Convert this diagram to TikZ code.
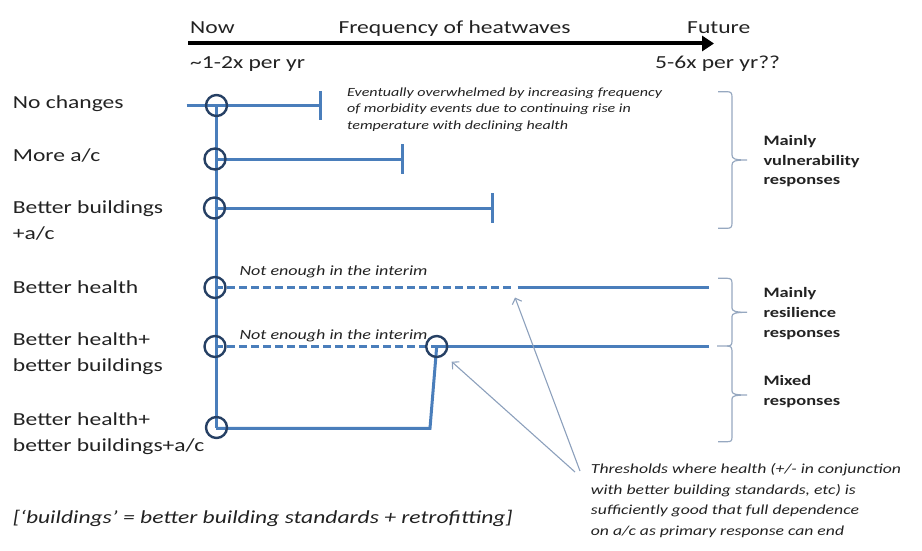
\documentclass[tikz,border=0pt]{standalone}
\usepackage{fontspec}
\setmainfont[FakeStretch=1.28]{Carlito}
\usetikzlibrary{arrows.meta}

\definecolor{lineblue}{RGB}{74,126,187}
\definecolor{ringnavy}{RGB}{38,64,100}
\definecolor{bracegrey}{RGB}{150,168,192}
\definecolor{pointergrey}{RGB}{140,160,188}
\definecolor{ink}{RGB}{34,34,34}

\begin{document}
\begin{tikzpicture}[x=1pt,y=-1pt,
  txt/.style={inner sep=0pt, anchor=base west, text=ink, font=\fontsize{18.4}{22}\selectfont},
  resp/.style={txt, font=\fontsize{14.4}{17}\selectfont\bfseries},
  note/.style={txt, font=\fontsize{12.5}{15}\selectfont\itshape},
  interim/.style={txt, font=\fontsize{14.1}{17}\selectfont\itshape},
  thresh/.style={txt, font=\fontsize{13.8}{16}\selectfont\itshape},
  foot/.style={txt, font=\fontsize{18.4}{22}\selectfont\itshape},
  ring/.style={circle, draw=ringnavy, line width=2.4pt, minimum size=21pt, inner sep=0pt},
  track/.style={draw=lineblue, line width=3pt},
  partial/.style={track, dash pattern=on 8pt off 4pt},
  brace/.style={draw=bracegrey, line width=1.2pt},
  pointer/.style={draw=pointergrey, line width=1.1pt, -{Straight Barb[length=5pt,width=10pt]}},
  timeline/.style={draw=black, line width=4pt, -{Triangle[length=12pt,width=15pt]}}
]
\useasboundingbox (0,0) rectangle (922,551);

% ---- time axis ----
\coordinate (axisL) at (188,43.5);
\coordinate (axisR) at (714,43.5);
\draw[timeline] (axisL) -- (axisR);
\node[txt] (now) at (190,33.3) {Now};
\node[txt] (freq) at (338.3,33.3) {Frequency of heatwaves};
\node[txt] (future) at (687,33.3) {Future};
\node[txt] (nowrate) at (190,68.3) {\textasciitilde1-2x per yr};
\node[txt] (futrate) at (655,68.3) {5-6x per yr??};

% ---- option labels ----
\node[txt] (opt1) at (12.7,108.3) {No changes};
\node[txt] (opt2) at (12.7,161.7) {More a/c};
\node[txt] (opt3a) at (12.7,213.5) {Better buildings};
\node[txt] (opt3b) at (12.7,239) {+a/c};
\node[txt] (opt4) at (12.7,293) {Better health};
\node[txt] (opt5a) at (12.7,345.5) {Better health+};
\node[txt] (opt5b) at (12.7,371.5) {better buildings};
\node[txt] (opt6a) at (12.7,425) {Better health+};
\node[txt] (opt6b) at (12.7,451) {better buildings+a/c};

% ---- start points and ends of the tracks ----
\coordinate (s1) at (216.5,105.5);
\coordinate (s2) at (215,159);
\coordinate (s3) at (214.5,208);
\coordinate (s4) at (215,287.5);
\coordinate (s5) at (215,346.5);
\coordinate (s6) at (216.5,427.5);
\coordinate (sw) at (436.7,346.5);

\coordinate (lead1) at (186.7,105.5);
\coordinate (end1) at (320,105.5);
\coordinate (end2) at (402,159);
\coordinate (end3) at (492.7,208);
\coordinate (dash4) at (513.5,287.5);
\coordinate (solid4) at (517.5,287.5);
\coordinate (end4) at (709.3,287.5);
\coordinate (end5) at (709.3,346.5);
\coordinate (turn6) at (430,428.3);
\coordinate (top) at (216,105.5);
\coordinate (bottom) at (216,428.3);

% common stem
\draw[track] (top) -- (bottom);

% vulnerability responses: cut off
\draw[track] (lead1) -- (end1);
\draw[track] ([yshift=14.5pt]end1) -- ([yshift=-14.5pt]end1);
\draw[track] (s2) -- (end2);
\draw[track] ([yshift=15pt]end2) -- ([yshift=-15pt]end2);
\draw[track] (s3) -- (end3);
\draw[track] ([yshift=15pt]end3) -- ([yshift=-15pt]end3);

% resilience responses
\draw[partial] (s4) -- (dash4);
\draw[track] (solid4) -- (end4);
\draw[partial] (s5) -- (sw);
\draw[track] (sw) -- (end5);

% mixed response
\draw[track] (bottom) -- (turn6) -- (sw);

% rings at the start points
\node[ring] (ring1) at (s1) {};
\node[ring] (ring2) at (s2) {};
\node[ring] (ring3) at (s3) {};
\node[ring] (ring4) at (s4) {};
\node[ring] (ring5) at (s5) {};
\node[ring] (ring6) at (s6) {};
\node[ring] (ringsw) at (sw) {};

% ---- annotations ----
\node[note] (ev1) at (347,96.7) {Eventually overwhelmed by increasing frequency};
\node[note] (ev2) at (347,113) {of morbidity events due to continuing rise in};
\node[note] (ev3) at (347,129.3) {temperature with declining health};

\node[interim] (int4) at (239.3,275.7) {Not enough in the interim};
\node[interim] (int5) at (239.3,339.3) {Not enough in the interim};

\node[thresh] (th1) at (590.7,473.5) {Thresholds where health (+/- in conjunction};
\node[thresh] (th2) at (590.7,494.2) {with better building standards, etc) is};
\node[thresh] (th3) at (590.7,514.9) {sufficiently good that full dependence};
\node[thresh] (th4) at (590.7,535.6) {on a/c as primary response can end};

\coordinate (tailA) at (580,471);
\coordinate (tipA) at (515,297.5);
\coordinate (tailB) at (575,472);
\coordinate (tipB) at (451.7,361.7);
\draw[pointer] (tailA) -- (tipA);
\draw[pointer] (tailB) -- (tipB);

\node[foot] (footnote) at (12.7,523) {[‘buildings’ = better building standards + retrofitting]};

% ---- braces on the right ----
\draw[brace] (718,91.7) -- (727,91.7) .. controls (731,91.7) and (732,93) .. (732,97)
  -- (732,155) .. controls (732,159) and (735,160) .. (747,160)
  .. controls (735,160) and (732,161) .. (732,165)
  -- (732,223) .. controls (732,227) and (731,228.3) .. (727,228.3) -- (718,228.3);
\draw[brace] (718,278.3) -- (727,278.3) .. controls (731,278.3) and (732,279.5) .. (732,283.5)
  -- (732,308) .. controls (732,311) and (735,312.3) .. (747,312.3)
  .. controls (735,312.3) and (732,313.5) .. (732,316.5)
  -- (732,341) .. controls (732,345) and (731,346) .. (727,346) -- (717,346);
\draw[brace] (727,346) .. controls (731,346) and (732,347.5) .. (732,351.5)
  -- (732,391) .. controls (732,394) and (735,395) .. (747,395)
  .. controls (735,395) and (732,396) .. (732,399)
  -- (732,437) .. controls (732,441) and (731,441.7) .. (727,441.7) -- (718,441.7);

\node[resp] (vul1) at (763.3,145.5) {Mainly};
\node[resp] (vul2) at (763.3,165) {vulnerability};
\node[resp] (vul3) at (763.3,184.5) {responses};
\node[resp] (res1) at (763.3,297.5) {Mainly};
\node[resp] (res2) at (763.3,317.5) {resilience};
\node[resp] (res3) at (763.3,337) {responses};
\node[resp] (mix1) at (763.3,385.5) {Mixed};
\node[resp] (mix2) at (763.3,405) {responses};
\end{tikzpicture}
\end{document}
